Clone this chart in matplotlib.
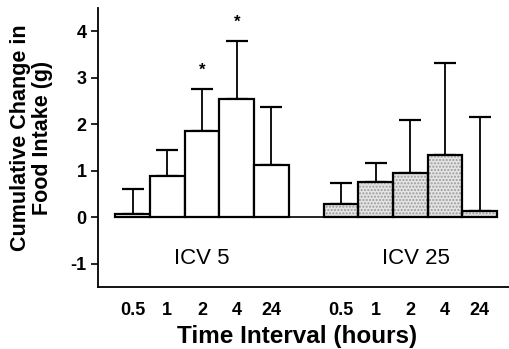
import numpy as np
import matplotlib
matplotlib.use('Agg')
import matplotlib.pyplot as plt

plt.rcParams['font.family'] = ['Liberation Sans', 'DejaVu Sans']

# datos
tiempos = ['0.5', '1', '2', '4', '24']
icv5_media = [0.07, 0.88, 1.85, 2.55, 1.12]
icv5_error = [0.53, 0.57, 0.90, 1.23, 1.26]
icv25_media = [0.28, 0.75, 0.96, 1.33, 0.14]
icv25_error = [0.46, 0.42, 1.13, 1.99, 2.01]
asteriscos = [2, 3]  # indices con * en ICV 5

x1 = np.arange(5)
x2 = np.arange(5) + 6

fig = plt.figure(figsize=(5.10, 3.49), dpi=100)
ax = fig.add_axes([0.192, 0.178, 0.81, 0.799])

# ICV 5: barras blancas
ax.bar(x1, icv5_media, width=1.0, color='white', edgecolor='black', linewidth=1.6, zorder=2)
ax.errorbar(x1, icv5_media, yerr=[np.zeros(5), icv5_error], fmt='none', ecolor='black',
            elinewidth=1.3, capsize=8, capthick=1.6, zorder=1)

# ICV 25: barras punteadas grises
ax.bar(x2, icv25_media, width=1.0, color='#e4e4e4', edgecolor='#9a9a9a', hatch='.....',
       linewidth=0, zorder=2)
ax.bar(x2, icv25_media, width=1.0, fill=False, edgecolor='black', linewidth=1.6, zorder=3)
ax.errorbar(x2, icv25_media, yerr=[np.zeros(5), icv25_error], fmt='none', ecolor='black',
            elinewidth=1.3, capsize=8, capthick=1.6, zorder=1)

# linea de cero
ax.plot([-0.5, 10.5], [0, 0], color='black', lw=1.2, zorder=1)

for i in asteriscos:
    ax.text(x1[i], icv5_media[i] + icv5_error[i] + 0.42, '*', ha='center', va='center',
            fontsize=12, fontweight='bold')

ax.text(2.0, -0.9, 'ICV 5', ha='center', va='center', fontsize=16)
ax.text(8.15, -0.9, 'ICV 25', ha='center', va='center', fontsize=16)

ax.set_xlim(-1, 10.9)
ax.set_ylim(-1.5, 4.5)
ax.set_yticks([-1, 0, 1, 2, 3, 4])
ax.set_yticklabels(['-1', '0', '1', '2', '3', '4'], fontweight='bold', fontsize=13)
ax.set_xticks(np.concatenate([x1, x2]))
ax.set_xticklabels(tiempos + tiempos, fontsize=13, fontweight='bold')
ax.tick_params(axis='x', length=0, pad=11)
ax.tick_params(axis='y', length=5, width=1.2, direction='out', pad=3)

ax.spines['top'].set_visible(False)
ax.spines['right'].set_visible(False)
ax.spines['left'].set_linewidth(1.3)
ax.spines['bottom'].set_linewidth(1.3)

fig.text(0.583, 0.037, 'Time Interval (hours)', ha='center', va='center',
         fontsize=17.5, fontweight='bold')
fig.text(0.062, 0.605, 'Cumulative Change in\nFood Intake (g)', ha='center', va='center',
         rotation=90, multialignment='center', linespacing=1.1,
         fontsize=15.5, fontweight='bold')

fig.savefig('out.png', dpi=100)
